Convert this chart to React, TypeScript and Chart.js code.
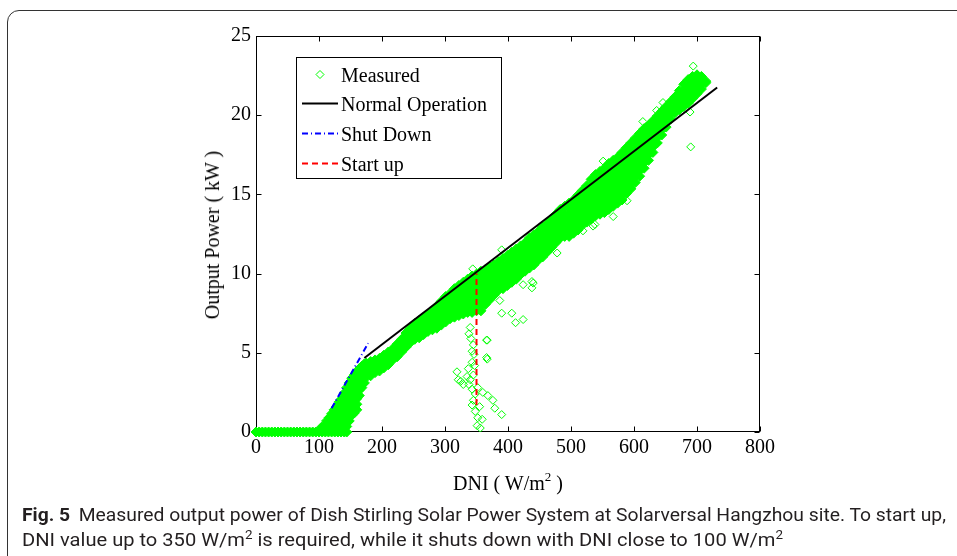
import React, { useEffect, useLayoutEffect, useRef } from "react";
import { Chart, registerables } from "chart.js";

Chart.register(...registerables);

// ---------- axes ----------
const xTicks = [0, 100, 200, 300, 400, 500, 600, 700, 800];
const yTicks = [0, 5, 10, 15, 20, 25];

// ---------- measured data (DNI W/m2, output kW) ----------
// zero-output readings before start of generation
const zeroPowerDNI = [
  0, 5, 10, 15, 20, 25, 30, 35, 40, 45, 50, 55, 60, 65, 70, 75, 80, 85, 90, 95, 100, 105, 110, 115, 120,
  125, 130, 135, 140, 144,
];

// dense readings, per DNI column: [DNI, power, power, ...]
const risingColumns: number[][] = [
  [104, 0.3],
  [108, 0.4],
  [112, 0.35, 0.7],
  [116, 0.35, 0.7, 0.9],
  [120, 0.35, 0.7, 1.05, 1.15],
  [124, 0.35, 0.7, 1.05, 1.4],
  [128, 0.35, 0.7, 1.05, 1.4, 1.6],
  [132, 0.35, 0.7, 1.05, 1.4, 1.75, 1.9],
  [136, 0.35, 0.7, 1.05, 1.4, 1.75, 2.1],
  [140, 0.35, 0.7, 1.05, 1.4, 1.75, 2.1, 2.45],
  [144, 0.35, 0.7, 1.05, 1.4, 1.75, 2.1, 2.45, 2.8],
  [148, 0.7, 1.05, 1.4, 1.75, 2.1, 2.45, 2.8, 3.1],
  [152, 1.05, 1.4, 1.75, 2.1, 2.45, 2.8, 3.15, 3.4],
  [156, 1.2, 1.55, 1.9, 2.25, 2.6, 2.95, 3.3, 3.6],
  [160, 1.4, 1.75, 2.1, 2.45, 2.8, 3.15, 3.5, 3.8],
  [164, 2.3, 2.65, 3.0, 3.35, 3.7, 4.0],
  [168, 2.8, 3.15, 3.5, 3.85, 4.15],
  [172, 3.1, 3.45, 3.8, 4.15, 4.3],
];

const bandColumns: number[][] = [
  [175, 3.45, 3.8, 4.15, 4.35],
  [182, 3.55, 3.9, 4.25, 4.45],
  [189, 3.75, 4.1, 4.55],
  [196, 3.85, 4.2, 4.65],
  [203, 4.05, 4.4, 4.85],
  [210, 4.25, 4.6, 4.95, 5.05],
  [217, 4.55, 4.9, 5.25],
  [224, 4.75, 5.1, 5.55],
  [231, 5.05, 5.4, 5.85],
  [238, 5.35, 5.7, 6.05, 6.25],
  [245, 5.65, 6.0, 6.35, 6.55],
  [252, 5.85, 6.2, 6.55, 6.85],
  [259, 5.95, 6.3, 6.65, 7.05],
  [266, 6.15, 6.5, 6.85, 7.25],
  [273, 6.35, 6.7, 7.05, 7.45],
  [280, 6.45, 6.8, 7.15, 7.5, 7.65],
  [287, 6.55, 6.9, 7.25, 7.6, 7.95],
  [294, 6.75, 7.1, 7.45, 7.8, 8.25],
  [301, 6.95, 7.3, 7.65, 8.0, 8.35, 8.55],
  [308, 7.15, 7.5, 7.85, 8.2, 8.55, 8.75],
  [315, 7.25, 7.6, 7.95, 8.3, 8.65, 9.05],
  [322, 7.35, 7.7, 8.05, 8.4, 8.75, 9.1, 9.25],
  [329, 7.45, 7.8, 8.15, 8.5, 8.85, 9.2, 9.45],
  [336, 7.55, 7.9, 8.25, 8.6, 8.95, 9.3, 9.65],
  [343, 7.55, 7.9, 8.25, 8.6, 8.95, 9.3, 9.65, 9.85],
  [350, 7.65, 8.0, 8.35, 8.7, 9.05, 9.4, 9.75, 9.95],
  [357, 7.65, 8.0, 8.35, 8.7, 9.05, 9.4, 9.75, 10.15],
  [364, 8.05, 8.4, 8.75, 9.1, 9.45, 9.8, 10.25],
  [371, 8.35, 8.7, 9.05, 9.4, 9.75, 10.1, 10.45],
  [378, 8.65, 9.0, 9.35, 9.7, 10.05, 10.55],
  [385, 8.95, 9.3, 9.65, 10.0, 10.35, 10.75],
  [392, 9.05, 9.4, 9.75, 10.1, 10.45, 10.95],
  [399, 9.25, 9.6, 9.95, 10.3, 10.65, 11.15],
  [406, 9.45, 9.8, 10.15, 10.5, 10.85, 11.35],
  [413, 9.65, 10.0, 10.35, 10.7, 11.05, 11.55],
  [420, 9.95, 10.3, 10.65, 11.0, 11.35, 11.75],
  [427, 10.15, 10.5, 10.85, 11.2, 11.55, 11.95],
  [434, 10.35, 10.7, 11.05, 11.4, 11.75, 12.25],
  [441, 10.55, 10.9, 11.25, 11.6, 11.95, 12.45],
  [448, 10.85, 11.2, 11.55, 11.9, 12.25, 12.65],
  [455, 11.05, 11.4, 11.75, 12.1, 12.45, 12.95],
  [462, 11.35, 11.7, 12.05, 12.4, 12.75, 13.15],
  [469, 11.65, 12.0, 12.35, 12.7, 13.05, 13.45],
  [476, 11.95, 12.3, 12.65, 13.0, 13.35, 13.75],
  [483, 12.25, 12.6, 12.95, 13.3, 13.65, 14.05],
  [490, 12.35, 12.7, 13.05, 13.4, 13.75, 14.25],
  [497, 12.35, 12.7, 13.05, 13.4, 13.75, 14.1, 14.45],
  [504, 12.55, 12.9, 13.25, 13.6, 13.95, 14.3, 14.65],
  [511, 12.75, 13.1, 13.45, 13.8, 14.15, 14.5, 14.95],
  [518, 13.05, 13.4, 13.75, 14.1, 14.45, 14.8, 15.25],
  [525, 13.25, 13.6, 13.95, 14.3, 14.65, 15.0, 15.55],
  [532, 13.45, 13.8, 14.15, 14.5, 14.85, 15.2, 15.55, 15.95],
  [539, 13.65, 14.0, 14.35, 14.7, 15.05, 15.4, 15.75, 16.25],
  [546, 13.75, 14.1, 14.45, 14.8, 15.15, 15.5, 15.85, 16.2, 16.45],
  [553, 13.85, 14.2, 14.55, 14.9, 15.25, 15.6, 15.95, 16.3, 16.65],
  [560, 14.05, 14.4, 14.75, 15.1, 15.45, 15.8, 16.15, 16.5, 16.95],
  [567, 14.25, 14.6, 14.95, 15.3, 15.65, 16.0, 16.35, 16.7, 17.15],
  [574, 14.45, 14.8, 15.15, 15.5, 15.85, 16.2, 16.55, 16.9, 17.35],
  [581, 14.65, 15.0, 15.35, 15.7, 16.05, 16.4, 16.75, 17.1, 17.45, 17.65],
  [588, 15.05, 15.4, 15.75, 16.1, 16.45, 16.8, 17.15, 17.5, 17.95],
  [595, 15.35, 15.7, 16.05, 16.4, 16.75, 17.1, 17.45, 17.8, 18.25],
  [602, 15.75, 16.1, 16.45, 16.8, 17.15, 17.5, 17.85, 18.2, 18.55],
  [609, 16.15, 16.5, 16.85, 17.2, 17.55, 17.9, 18.25, 18.6, 18.85],
  [616, 16.65, 17.0, 17.35, 17.7, 18.05, 18.4, 18.75, 19.15],
  [623, 17.15, 17.5, 17.85, 18.2, 18.55, 18.9, 19.35],
  [630, 17.65, 18.0, 18.35, 18.7, 19.05, 19.4, 19.65],
  [637, 18.25, 18.6, 18.95, 19.3, 19.65, 19.95],
  [644, 18.75, 19.1, 19.45, 19.8, 20.25],
  [651, 19.25, 19.6, 19.95, 20.3, 20.55],
  [658, 19.75, 20.1, 20.45, 20.85],
  [665, 20.15, 20.5, 20.85, 21.15],
  [672, 20.35, 20.7, 21.05, 21.4, 21.55],
  [679, 20.55, 20.9, 21.25, 21.6, 21.95],
  [686, 20.75, 21.1, 21.45, 21.8, 22.25],
  [693, 21.05, 21.4, 21.75, 22.1, 22.45],
  [700, 21.35, 21.7, 22.05, 22.4, 22.55],
  [707, 21.65, 22.0, 22.45],
  [714, 22.05, 22.15],
];

// isolated readings around the band: [DNI, power]
const scatteredReadings: number[][] = [
  [694, 23.1], [690, 18.0], [689, 20.2], [646, 20.8], [636, 20.3], [614, 19.6], [589, 18.0], [551, 17.1],
  [628, 17.9], [619, 17.8], [617, 17.2], [589, 14.6], [567, 13.6], [538, 13.1], [535, 13.0], [519, 12.7],
  [498, 12.4], [478, 11.3], [438, 9.5], [438, 9.1], [424, 9.3], [424, 7.1], [406, 7.5], [390, 7.5],
  [387, 8.3], [440, 9.4], [412, 6.9], [367, 5.8], [367, 4.6], [344, 10.3], [390, 11.5],
];

// start-up transient readings: [DNI, power]
const startupReadings: number[][] = [
  [340, 6.6], [338, 6.2], [341, 5.9], [345, 5.5], [343, 5.1], [346, 4.9], [366, 5.8], [366, 4.7],
  [343, 4.4], [347, 4.2], [337, 4.0], [345, 3.6], [335, 3.5], [340, 3.3], [319, 3.8], [321, 3.3],
  [329, 3.0], [325, 3.2], [338, 3.0], [343, 2.7], [352, 2.8], [348, 2.4], [360, 2.5], [368, 2.3],
  [376, 2.0], [379, 1.5], [390, 1.1], [345, 2.0], [343, 1.7], [348, 1.3], [352, 0.9], [359, 0.8],
  [351, 0.4], [356, 0.25], [355, 1.6],
];

// ---------- model lines ----------
const normalDNI = [172, 732];
const normalPower = [4.67, 21.75];
const shutDownDNI = [120, 178];
const shutDownPower = [1.5, 5.6];
const startUpDNI = [350, 350];
const startUpPower = [1.7, 10.0];

const legendLabels = ["Measured", "Normal Operation", "Shut Down", "Start up"];

const GREEN = "#00ff00";
const SERIF = "'Liberation Serif', 'Times New Roman', Times, serif";

const pairs = (xs: number[], ys: number[]) => xs.map((x, i) => ({ x, y: ys[i] }));
const fromColumns = (cols: number[][]) =>
  cols.flatMap(([x, ...ps]) => ps.map((p) => ({ x, y: p })));
const fromPairs = (pts: number[][]) => pts.map(([x, y]) => ({ x, y }));

const boxPlugin = {
  id: "matlabBox",
  beforeDatasetsDraw(chart: any) {
    const { ctx, chartArea: a, scales } = chart;
    const xs = scales.x;
    const ys = scales.y;
    ctx.save();
    ctx.strokeStyle = "#000";
    ctx.lineWidth = 1;
    const L = Math.round(a.left) + 0.5;
    const R = Math.round(a.right) - 0.5;
    const T = Math.round(a.top) + 0.5;
    const B = Math.round(a.bottom) - 0.5;
    ctx.strokeRect(L, T, R - L, B - T);
    const tl = 5;
    ctx.beginPath();
    xTicks.forEach((v) => {
      const p = Math.round(xs.getPixelForValue(v)) + 0.5;
      ctx.moveTo(p, B);
      ctx.lineTo(p, B - tl);
      ctx.moveTo(p, T);
      ctx.lineTo(p, T + tl);
    });
    yTicks.forEach((v) => {
      const p = Math.round(ys.getPixelForValue(v)) + 0.5;
      ctx.moveTo(L, p);
      ctx.lineTo(L + tl, p);
      ctx.moveTo(R, p);
      ctx.lineTo(R - tl, p);
    });
    ctx.stroke();
    ctx.restore();
  },
};

const legendPlugin = {
  id: "matlabLegend",
  afterDraw(chart: any) {
    const ctx = chart.ctx;
    const ds = chart.data.datasets;
    ctx.save();
    ctx.fillStyle = "#fff";
    ctx.fillRect(296, 57, 206, 122);
    ctx.strokeStyle = "#000";
    ctx.lineWidth = 1;
    ctx.strokeRect(296.5, 57.5, 205, 121);
    const rows = [74.5, 103.5, 133.5, 163.5];
    const x0 = 302;
    const x1 = 338;
    ctx.strokeStyle = GREEN;
    ctx.lineWidth = 1;
    const cx = 320;
    const cy = rows[0];
    const r = 4;
    ctx.beginPath();
    ctx.moveTo(cx - r, cy);
    ctx.lineTo(cx, cy - r);
    ctx.lineTo(cx + r, cy);
    ctx.lineTo(cx, cy + r);
    ctx.closePath();
    ctx.stroke();
    [0, 1, 2].forEach((i) => {
      const d = ds[i];
      ctx.strokeStyle = d.borderColor;
      ctx.lineWidth = d.borderWidth;
      ctx.setLineDash(d.borderDash || []);
      ctx.beginPath();
      ctx.moveTo(x0, rows[i + 1]);
      ctx.lineTo(x1, rows[i + 1]);
      ctx.stroke();
    });
    ctx.setLineDash([]);
    ctx.fillStyle = "#000";
    ctx.font = `20px ${SERIF}`;
    ctx.textBaseline = "alphabetic";
    ctx.textAlign = "left";
    legendLabels.forEach((t, i) => ctx.fillText(t, 341, rows[i] + 7));
    ctx.restore();
  },
};

function ChartCanvas() {
  const ref = useRef<HTMLCanvasElement>(null);
  useEffect(() => {
    if (!ref.current) return;
    const chart = new Chart(ref.current, {
      type: "scatter",
      data: {
        datasets: [
          {
            label: "Normal Operation",
            data: pairs(normalDNI, normalPower),
            showLine: true,
            borderColor: "#000000",
            borderWidth: 2,
            pointRadius: 0,
          },
          {
            label: "Shut Down",
            data: pairs(shutDownDNI, shutDownPower),
            showLine: true,
            borderColor: "#0000ff",
            borderWidth: 2,
            borderDash: [6, 3, 1, 3],
            pointRadius: 0,
          },
          {
            label: "Start up",
            data: pairs(startUpDNI, startUpPower),
            showLine: true,
            borderColor: "#ff0000",
            borderWidth: 2,
            borderDash: [6, 4],
            pointRadius: 0,
          },
          {
            label: "Measured",
            data: [...fromPairs(scatteredReadings), ...fromPairs(startupReadings)],
            pointStyle: "rectRot",
            pointRadius: 4,
            borderWidth: 1,
            pointBorderWidth: 1,
            borderColor: GREEN,
            backgroundColor: "rgba(0,0,0,0)",
            clip: false,
          },
          {
            label: "Measured",
            data: [
              ...zeroPowerDNI.map((x) => ({ x, y: 0 })),
              ...fromColumns(risingColumns),
              ...fromColumns(bandColumns),
            ],
            pointStyle: "rectRot",
            pointRadius: 5,
            borderWidth: 1,
            pointBorderWidth: 1,
            borderColor: GREEN,
            backgroundColor: GREEN,
            clip: false,
          },
        ] as any,
      },
      options: {
        animation: false,
        responsive: true,
        maintainAspectRatio: false,
        events: [],
        layout: { padding: { left: 0, right: 197, top: 36, bottom: 0 } },
        plugins: { legend: { display: false }, tooltip: { enabled: false } },
        scales: {
          x: {
            type: "linear",
            min: 0,
            max: 800,
            afterFit: (s: any) => {
              s.height = 124;
            },
            afterBuildTicks: (s: any) => {
              s.ticks = xTicks.map((v) => ({ value: v }));
            },
            grid: { display: false, drawTicks: false },
            border: { display: false },
            ticks: { font: { family: SERIF, size: 20 }, color: "#000", padding: 4, maxRotation: 0 },
          },
          y: {
            type: "linear",
            min: 0,
            max: 25,
            afterFit: (s: any) => {
              s.width = 256;
            },
            afterBuildTicks: (s: any) => {
              s.ticks = yTicks.map((v) => ({ value: v }));
            },
            grid: { display: false, drawTicks: false },
            border: { display: false },
            ticks: { font: { family: SERIF, size: 20 }, color: "#000", padding: 5 },
          },
        },
      } as any,
      plugins: [boxPlugin, legendPlugin],
    });
    return () => chart.destroy();
  }, []);
  return <canvas ref={ref} />;
}

export default function App() {
  const capRef = useRef<HTMLDivElement>(null);
  useLayoutEffect(() => {
    const el = capRef.current;
    if (!el) return;
    const fit = (sel: string, target: number) => {
      const line = el.querySelector(sel) as HTMLElement;
      const w = line.getBoundingClientRect().width;
      if (w > 0) line.style.transform = `scaleX(${target / w})`;
    };
    fit(".l1", 924);
    fit(".l2", 761);
  }, []);

  const capFont = "Roboto, 'Open Sans', sans-serif";

  return (
    <div
      style={{
        position: "fixed",
        left: 0,
        top: 0,
        width: 957,
        height: 556,
        overflow: "hidden",
        background: "#fff",
      }}
    >
      <div
        style={{
          position: "absolute",
          left: 7,
          top: 10,
          width: 1100,
          height: 700,
          border: "1px solid #333",
          borderRadius: 12,
          boxSizing: "border-box",
        }}
      />
      <div style={{ position: "absolute", left: 0, top: 0, width: 957, height: 556 }}>
        <ChartCanvas />
      </div>
      <div
        style={{
          position: "absolute",
          left: 212,
          top: 234.5,
          transform: "translate(-50%, -50%) rotate(-90deg)",
          whiteSpace: "nowrap",
          fontFamily: SERIF,
          fontSize: 20,
          lineHeight: "20px",
          color: "#000",
        }}
      >
        Output Power ( kW )
      </div>
      <div
        style={{
          position: "absolute",
          left: 508,
          top: 473,
          transform: "translateX(-50%)",
          whiteSpace: "nowrap",
          fontFamily: SERIF,
          fontSize: 20,
          lineHeight: "20px",
          color: "#000",
        }}
      >
        DNI ( W/m<sup style={{ fontSize: 13, lineHeight: 0, verticalAlign: 9 }}>2</sup> )
      </div>
      <div
        ref={capRef}
        style={{
          position: "absolute",
          left: 22,
          top: 502,
          fontFamily: capFont,
          fontSize: 18,
          lineHeight: "25px",
          color: "#231f20",
          whiteSpace: "nowrap",
        }}
      >
        <div>
          <span className="l1" style={{ display: "inline-block", transformOrigin: "0 0" }}>
            <b>Fig. 5</b>
            <span style={{ marginLeft: 8 }}>
              Measured output power of Dish Stirling Solar Power System at Solarversal Hangzhou site. To start up,
            </span>
          </span>
        </div>
        <div>
          <span className="l2" style={{ display: "inline-block", transformOrigin: "0 0" }}>
            DNI value up to 350 W/m<sup style={{ fontSize: 12, lineHeight: 0 }}>2</sup> is required, while it shuts
            down with DNI close to 100 W/m<sup style={{ fontSize: 12, lineHeight: 0 }}>2</sup>
          </span>
        </div>
      </div>
    </div>
  );
}
